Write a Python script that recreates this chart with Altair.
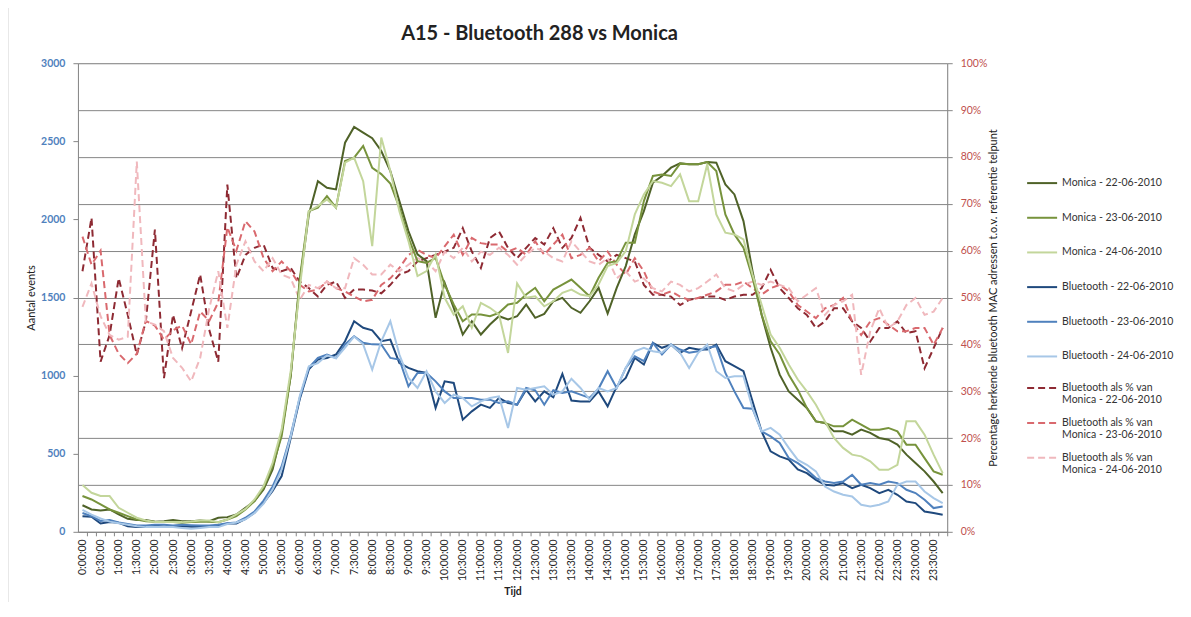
import altair as alt
import pandas as pd

# ---------------- data ----------------
times = [f"{h}:{m:02d}:00" for h in range(24) for m in (0, 15, 30, 45)]

count_names = ["Monica - 22-06-2010", "Monica - 23-06-2010", "Monica - 24-06-2010",
               "Bluetooth - 22-06-2010", "Bluetooth - 23-06-2010", "Bluetooth - 24-06-2010"]
pct_names = ["Bluetooth als % van|Monica - 22-06-2010",
             "Bluetooth als % van|Monica - 23-06-2010",
             "Bluetooth als % van|Monica - 24-06-2010"]

monica_22 = [170, 143, 137, 143, 111, 83, 75, 75, 64, 68, 75, 68, 68, 73, 68, 90,
             94, 111, 154, 197, 271, 400, 635, 1000, 1600, 2031, 2245, 2203, 2192, 2491, 2592, 2556,
             2520, 2438, 2310, 2117, 1925, 1776, 1733, 1370, 1594, 1434, 1263, 1348, 1263, 1327, 1380, 1359,
             1380, 1455, 1370, 1395, 1476, 1498, 1434, 1402, 1476, 1562, 1397, 1562, 1701, 1904, 2053, 2235,
             2278, 2331, 2359, 2353, 2353, 2367, 2363, 2224, 2160, 1989, 1669, 1391, 1178, 1006, 899, 846,
             793, 707, 697, 643, 643, 622, 654, 633, 601, 590, 558, 494, 440, 387, 322, 248]
monica_23 = [229, 207, 175, 143, 122, 100, 79, 68, 64, 62, 62, 58, 62, 64, 64, 62,
             79, 100, 143, 197, 282, 421, 613, 1000, 1620, 2053, 2075, 2149, 2075, 2374, 2395, 2470,
             2330, 2290, 2230, 2075, 1883, 1733, 1722, 1754, 1583, 1455, 1348, 1391, 1391, 1380, 1402, 1455,
             1466, 1519, 1562, 1476, 1551, 1583, 1615, 1562, 1508, 1626, 1722, 1733, 1851, 1851, 2117, 2278,
             2288, 2278, 2357, 2353, 2353, 2367, 2310, 2032, 1904, 1819, 1626, 1391, 1220, 1135, 1006, 910,
             793, 707, 697, 675, 675, 718, 686, 654, 654, 665, 643, 558, 558, 472, 387, 365]
monica_24 = [299, 250, 229, 229, 154, 122, 90, 73, 62, 62, 62, 62, 66, 73, 73, 62,
             79, 111, 147, 207, 293, 442, 656, 1030, 1560, 2053, 2085, 2128, 2075, 2363, 2395, 2245,
             1829, 2524, 2310, 2053, 1861, 1637, 1669, 1776, 1498, 1391, 1444, 1306, 1466, 1434, 1391, 1145,
             1590, 1498, 1508, 1444, 1476, 1530, 1551, 1519, 1508, 1583, 1701, 1722, 1797, 2032, 2160, 2245,
             2235, 2213, 2288, 2117, 2117, 2353, 2032, 1915, 1904, 1872, 1647, 1455, 1263, 1178, 1071, 975,
             899, 814, 707, 601, 537, 494, 483, 451, 397, 397, 429, 707, 707, 622, 494, 376]
bt_22 = [100, 96, 53, 62, 58, 36, 30, 30, 41, 32, 32, 36, 32, 30, 32, 41,
         53, 53, 83, 122, 186, 261, 357, 600, 850, 1040, 1103, 1113, 1135, 1220, 1348, 1306,
         1290, 1220, 1231, 1081, 1049, 1028, 1017, 793, 963, 953, 718, 771, 814, 793, 857, 825,
         814, 910, 835, 899, 861, 1011, 840, 835, 835, 899, 803, 931, 985, 1113, 1071, 1210,
         1178, 1199, 1146, 1178, 1167, 1167, 1199, 1092, 1060, 1028, 835, 643, 515, 483, 462, 400,
         376, 333, 301, 297, 312, 280, 301, 280, 248, 269, 237, 194, 184, 130, 120, 109]
bt_23 = [120, 100, 70, 75, 60, 50, 40, 40, 45, 45, 40, 45, 42, 40, 40, 45,
         55, 60, 90, 130, 200, 290, 420, 620, 860, 1050, 1113, 1135, 1113, 1199, 1252, 1210,
         1200, 1199, 1113, 1103, 931, 1017, 1017, 963, 899, 857, 857, 857, 846, 846, 825, 835,
         814, 921, 906, 814, 906, 889, 899, 878, 857, 917, 1028, 921, 1049, 1124, 1092, 1210,
         1135, 1199, 1167, 1146, 1156, 1178, 1188, 1017, 899, 793, 788, 643, 611, 569, 472, 440,
         397, 344, 322, 312, 322, 365, 301, 312, 301, 322, 312, 269, 248, 205, 152, 162]
bt_24 = [140, 110, 85, 65, 55, 45, 35, 30, 30, 30, 30, 25, 20, 25, 30, 30,
         50, 60, 80, 120, 180, 270, 400, 610, 870, 1060, 1080, 1130, 1110, 1180, 1250, 1200,
         1038, 1220, 1348, 1135, 985, 921, 1028, 899, 825, 878, 857, 803, 835, 857, 867, 665,
         921, 910, 921, 931, 878, 899, 980, 921, 846, 921, 899, 921, 1049, 1156, 1178, 1156,
         1146, 1199, 1146, 1049, 1146, 1199, 1028, 985, 996, 996, 793, 643, 665, 622, 537, 460,
         429, 387, 290, 258, 237, 226, 173, 162, 173, 194, 301, 322, 322, 258, 216, 184]

pct_22 = [55.6, 67, 36.3, 42, 54.1, 46.3, 37.8, 44.9, 64.5, 32.8, 46.3, 39.2, 47, 54.9, 43.1, 36.3,
          74.1, 54.1, 59.1, 60.6, 61.3, 56.3, 55.6, 56.3, 53.4, 52, 50.2, 52.7, 53.4, 49.9, 51.7, 51.7,
          51.5, 50.9, 52.7, 54.9, 55.6, 57.7, 58.4, 59.1, 59.8, 60.6, 64.8, 59.8, 56.3, 62.7, 64.1, 60.6,
          58.4, 60.6, 62.7, 61.3, 64.8, 60.6, 62.7, 67, 60.6, 59.1, 57.7, 59.1, 58.4, 57.7, 52.7, 50.6,
          50.6, 50.2, 48.4, 49.5, 49.9, 50.2, 50.2, 49.5, 50.2, 50.6, 50.6, 52, 55.9, 52, 49.9, 47.7,
          46.3, 43.5, 44.9, 47.7, 47.7, 44.9, 43.5, 40.6, 43.5, 43.5, 44.9, 42.4, 42.8, 34.9, 39.2, 43.5]
pct_23 = [63, 57, 60, 42, 38, 36, 38, 45, 44, 41, 43, 44, 40, 47, 45, 49,
          65, 60, 66.3, 64.1, 58.4, 55.6, 57.7, 55.6, 52.7, 51.3, 51.7, 53.4, 52, 51.3, 50.2, 49.2,
          49.5, 52.7, 54.1, 56.3, 59.1, 60.2, 59.1, 58.4, 60.9, 63.4, 59.1, 62.7, 61.6, 61.3, 61.3, 59.8,
          60.6, 59.1, 62, 59.1, 61.3, 63.4, 58.4, 59.1, 60.6, 57.7, 59.8, 57, 54.9, 58.4, 55.6, 51.3,
          50.6, 51.3, 50.2, 49.5, 49.9, 50.6, 51.3, 52.7, 52.7, 53.4, 52, 50.6, 52, 52.7, 51.3, 48.4,
          47, 45.6, 47.7, 48.4, 49.9, 44.9, 42, 44.9, 45.6, 44.2, 42.8, 42.8, 43.5, 43.5, 39.9, 43.5]
pct_24 = [48, 53, 46, 42, 41, 41.6, 79, 44.9, 44.2, 42.8, 37.1, 35, 32.1, 37.1, 47.7, 55.6,
          43.5, 57, 62, 57.7, 55.6, 58.4, 54.9, 54.1, 49.5, 52.7, 52, 53.4, 52, 52, 58.4, 57,
          54.9, 54.9, 57, 55.6, 57, 58.4, 57.7, 55.6, 59.8, 58.4, 60.6, 57.7, 59.8, 59.1, 60.6, 59.1,
          57, 59.1, 60.6, 59.8, 58.4, 57.7, 62, 59.8, 57.7, 57, 58.4, 54.1, 55.6, 53.4, 54.1, 52,
          51.3, 53.4, 52.7, 51.3, 52, 53.4, 54.9, 52, 51.3, 52.7, 53.4, 52.7, 53.4, 52.7, 52, 49.2,
          50.6, 52, 46.3, 48.4, 49.2, 50.6, 33.5, 42.8, 47.7, 43.5, 44.9, 48.4, 49.9, 46.3, 47, 49.9]

count_series = [monica_22, monica_23, monica_24, bt_22, bt_23, bt_24]
pct_series = [pct_22, pct_23, pct_24]

count_colors = ["#4F6228", "#77933C", "#C3D69B", "#1F497D", "#4F81BD", "#A7C7E7"]
pct_colors = ["#8E2A33", "#D9696E", "#F0B8BD"]

rows_c = []
for name, vals in zip(count_names, count_series):
    for i, v in enumerate(vals):
        rows_c.append({"idx": i, "series": name, "value": v})
df_c = pd.DataFrame(rows_c)

rows_p = []
for name, vals in zip(pct_names, pct_series):
    for i, v in enumerate(vals):
        rows_p.append({"idx": i, "pseries": name, "pvalue": v / 100.0})
df_p = pd.DataFrame(rows_p)

FONT = "Lato"
W, H = 870, 469
step = W / 96.0

label_expr = ("datum.value % 2 ? '' : floor(datum.value / 4) + ':' + "
              "(datum.value % 4 == 0 ? '00' : '30') + ':00'")

x_enc = alt.X("idx:Q",
              scale=alt.Scale(domain=[-0.5, 95.5], nice=False, zero=False),
              axis=alt.Axis(values=list(range(96)), labelExpr=label_expr, labelAngle=-90,
                            labelFontSize=10.5, labelColor="#222222", labelFont=FONT,
                            tickOffset=step / 2, labelOffset=-step / 2,
                            tickSize=4, tickColor="#868686", domainColor="#868686",
                            grid=False, title="Tijd", titleFont=FONT, titleFontSize=10.5,
                            titleFontWeight="bold", titleColor="#222222", titlePadding=6,
                            labelPadding=3))

counts = alt.Chart(df_c).mark_line(strokeWidth=2).encode(
    x=x_enc,
    y=alt.Y("value:Q",
            scale=alt.Scale(domain=[0, 3000], nice=False),
            axis=alt.Axis(values=[0, 500, 1000, 1500, 2000, 2500, 3000], format="d", grid=False,
                          labelColor="#4F81BD", labelFont=FONT, labelFontSize=10.5,
                          labelFontWeight="bold", tickColor="#868686", tickSize=5,
                          domainColor="#868686", title="Aantal events", titleFont=FONT,
                          titleFontSize=11, titleFontWeight="normal", titleColor="#222222",
                          titlePadding=4, labelPadding=8)),
    color=alt.Color("series:N",
                    scale=alt.Scale(domain=count_names, range=count_colors),
                    legend=alt.Legend(title=None, orient="none", legendX=W + 79, legendY=104,
                                      symbolType="stroke", symbolSize=900, symbolStrokeWidth=2,
                                      labelFont=FONT, labelFontSize=10.5, labelColor="#333333",
                                      rowPadding=12.7, labelOffset=4, labelLimit=220)),
    order="idx:Q",
)

pcts = alt.Chart(df_p).mark_line(strokeWidth=2).encode(
    x=x_enc,
    y=alt.Y("pvalue:Q",
            scale=alt.Scale(domain=[0, 1], nice=False),
            axis=alt.Axis(orient="right", values=[i / 10 for i in range(11)], format=".0%",
                          grid=True, gridColor="#868686", gridWidth=1,
                          labelColor="#C0504D", labelFont=FONT, labelFontSize=10.5,
                          tickColor="#868686", tickSize=5, domainColor="#868686",
                          title="Percentage herkende bluetooth MAC adressen t.o.v. referentie telpunt",
                          titleFont=FONT, titleFontSize=11, titleFontWeight="normal",
                          titleColor="#222222", titleAngle=270, titlePadding=12, labelPadding=8)),
    color=alt.Color("pseries:N",
                    scale=alt.Scale(domain=pct_names, range=pct_colors),
                    legend=alt.Legend(title=None, orient="none", legendX=W + 79, legendY=309,
                                      symbolType="stroke", symbolSize=900, symbolStrokeWidth=2,
                                      labelFont=FONT, labelFontSize=10.5, labelColor="#333333",
                                      labelExpr="split(datum.label, '|')",
                                      rowPadding=1, labelOffset=4, labelLimit=220)),
    strokeDash=alt.StrokeDash("pseries:N",
                              scale=alt.Scale(domain=pct_names, range=[[7, 4]] * 3),
                              legend=None),
    order="idx:Q",
)

frame = alt.Chart(pd.DataFrame({"k": [0]})).mark_rule(color="#D0D0D0", strokeWidth=1).encode(
    x=alt.value(-70), y=alt.value(-63), y2=alt.value(H + 90))

chart = alt.layer(pcts, counts, frame).resolve_scale(
    y="independent", color="independent", strokeDash="independent"
).resolve_legend(color="independent").properties(
    width=W, height=H,
    title=alt.TitleParams("A15 - Bluetooth 288 vs Monica", font=FONT, fontSize=20,
                          fontWeight="bold", color="#222222", anchor="middle", dx=27, offset=-44),
    autosize=alt.AutoSizeParams(type="none"),
    padding={"left": 70, "top": 55, "right": 236, "bottom": 70},
).configure_view(stroke=None).configure(background="white")

chart.save("out.html", embed_options={"renderer": "svg", "actions": False})
